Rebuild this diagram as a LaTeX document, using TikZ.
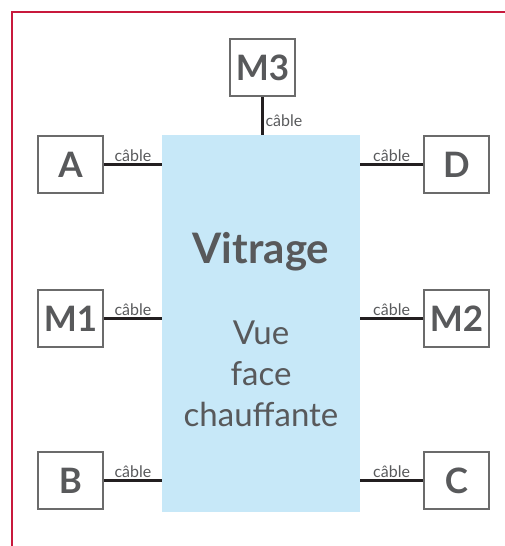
\documentclass[tikz,border=0pt]{standalone}
\usepackage{fontspec}
\setmainfont{Lato}
\usetikzlibrary{positioning}
\definecolor{cadre}{HTML}{C8193C}
\definecolor{bleuvitre}{HTML}{C7E8F8}
\definecolor{gristexte}{HTML}{58595B}
\definecolor{grisboite}{HTML}{6B6B6B}
\definecolor{noircable}{HTML}{231F20}
\begin{document}
\begin{tikzpicture}[
    x=1pt, y=-1pt,
    boite/.style={draw=grisboite, line width=2pt, fill=white, minimum width=65pt, minimum height=57pt,
      text=gristexte, font=\fontsize{35}{35}\selectfont\bfseries},
    cable/.style={draw=noircable, line width=3pt},
    etiq/.style={text=gristexte, font=\fontsize{16}{16}\selectfont, inner sep=1.5pt}
    ]
    \useasboundingbox (0,0) rectangle (505,546);
    \draw[cadre, line width=2pt] (12,546) -- (12,12) -- (505,12);

    \node[fill=bleuvitre, minimum width=198pt, minimum height=377pt, inner sep=0pt] (vitrage) at (261,323.5) {};
    \node[text=gristexte, font=\fontsize{42}{42}\selectfont\bfseries, anchor=base] (titre) at (261,263) {Vitrage};
    \node[text=gristexte, font=\fontsize{33}{41}\selectfont, align=center] (vue) at (261,374) {Vue\\face\\chauffante};

    \node[boite] (m3) at (262.5,67.5) {M3};
    \node[boite] (a) at (70.5,164.5) {A};
    \node[boite] (m1) at (70.5,318.5) {M1};
    \node[boite] (b) at (70.5,480.5) {B};
    \node[boite] (d) at (456.5,164.5) {D};
    \node[boite] (m2) at (456.5,318.5) {M2};
    \node[boite] (c) at (456.5,480.5) {C};

    \draw[cable] (m3.south) -- (m3.south |- vitrage.north) node[midway, right, etiq, yshift=-5pt] {câble};
    \draw[cable] (a.east) -- (a.east -| vitrage.west) node[midway, above, etiq] {câble};
    \draw[cable] (m1.east) -- (m1.east -| vitrage.west) node[midway, above, etiq] {câble};
    \draw[cable] (b.east) -- (b.east -| vitrage.west) node[midway, above, etiq] {câble};
    \draw[cable] (d.west) -- (d.west -| vitrage.east) node[midway, above, etiq] {câble};
    \draw[cable] (m2.west) -- (m2.west -| vitrage.east) node[midway, above, etiq] {câble};
    \draw[cable] (c.west) -- (c.west -| vitrage.east) node[midway, above, etiq] {câble};
\end{tikzpicture}
\end{document}
